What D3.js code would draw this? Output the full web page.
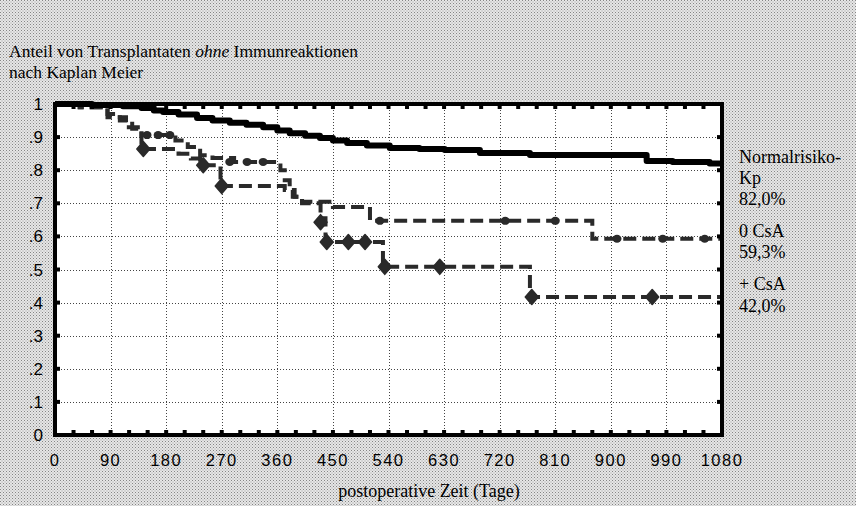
<!DOCTYPE html>
<html><head><meta charset="utf-8">
<script src="https://cdn.jsdelivr.net/npm/d3@7"></script>
<style>html,body{margin:0;padding:0;background:#fff}svg{display:block}</style>
</head><body>
<script>
// ---- data ----
const xTicks = [0,90,180,270,360,450,540,630,720,810,900,990,1080];
const yTicks = [0,0.1,0.2,0.3,0.4,0.5,0.6,0.7,0.8,0.9,1];
const yTickLabels = ["0",".1",".2",".3",".4",".5",".6",".7",".8",".9","1"];

const normalDays = [0,60,110,140,160,175,200,230,255,283,310,337,360,380,405,429,450,473,505,542,590,631,688,769,958,1000,1060,1080];
const normalVals = [1,0.997,0.993,0.988,0.98,0.976,0.968,0.958,0.95,0.943,0.937,0.93,0.92,0.912,0.904,0.897,0.89,0.882,0.875,0.867,0.864,0.861,0.852,0.846,0.828,0.825,0.82,0.82];

const csa0Days = [0,40,85,105,125,140,195,215,235,255,290,365,372,380,388,400,450,510,870,1080];
const csa0Vals = [1,0.99,0.97,0.95,0.925,0.906,0.89,0.87,0.845,0.837,0.825,0.80,0.77,0.74,0.72,0.705,0.689,0.647,0.593,0.593];
const csa0CensorDays = [149,167,186,283,311,337,526,729,810,910,984,1052];
const csa0CensorVals = [0.906,0.906,0.906,0.825,0.825,0.825,0.647,0.647,0.647,0.593,0.593,0.593];

const csaPDays = [0,40,85,115,140,200,220,235,268,372,385,400,430,438,531,769,1080];
const csaPVals = [1,0.99,0.96,0.93,0.864,0.85,0.835,0.815,0.752,0.74,0.72,0.70,0.655,0.583,0.508,0.417,0.417];
const csaPCensorDays = [143,240,270,430,440,475,502,534,623,772,967];
const csaPCensorVals = [0.864,0.815,0.752,0.643,0.583,0.583,0.583,0.508,0.508,0.417,0.417];

const legendLines = ["Normalrisiko-","Kp","82,0%","0 CsA","59,3%","+ CsA","42,0%"];

// ---- drawing ----
const W = 856, H = 506;
const svg = d3.select("body").append("svg").attr("width", W).attr("height", H);
const defs = svg.append("defs");
const pat = defs.append("pattern").attr("id","ht").attr("width",3).attr("height",3).attr("patternUnits","userSpaceOnUse");
pat.append("rect").attr("width",3).attr("height",3).attr("fill","#e6e6e6");
pat.append("rect").attr("x",0).attr("y",0).attr("width",1).attr("height",1).attr("fill","#858585");
pat.append("rect").attr("x",1.5).attr("y",1.5).attr("width",1).attr("height",1).attr("fill","#a0a0a0");
svg.append("rect").attr("width",W).attr("height",H).attr("fill","url(#ht)");

const x = d3.scaleLinear().domain([0,1080]).range([55,722]);
const y = d3.scaleLinear().domain([0,1]).range([435,104]);

svg.append("rect").attr("x",x(0)).attr("y",y(1)).attr("width",x(1080)-x(0)).attr("height",y(0)-y(1)).attr("fill","#fff");

// grid
const grid = svg.append("g").attr("stroke","#444").attr("stroke-width",1).attr("stroke-dasharray","1,2");
grid.selectAll("line.v").data(xTicks.slice(1,-1)).join("line")
  .attr("x1",d=>Math.round(x(d))+0.5).attr("x2",d=>Math.round(x(d))+0.5).attr("y1",y(1)).attr("y2",y(0));
grid.selectAll("line.h").data(yTicks.slice(1,-1)).join("line")
  .attr("y1",d=>Math.round(y(d))+0.5).attr("y2",d=>Math.round(y(d))+0.5).attr("x1",x(0)).attr("x2",x(1080));

// curves
const line = d3.line().x(d=>x(d[0])).y(d=>y(d[1])).curve(d3.curveStepAfter);
const normal = normalDays.map((d,i)=>[d,normalVals[i]]);
const csa0 = csa0Days.map((d,i)=>[d,csa0Vals[i]]);
const csaP = csaPDays.map((d,i)=>[d,csaPVals[i]]);

svg.append("path").attr("d",line(csaP)).attr("fill","none").attr("stroke","#2a2a2a")
  .attr("stroke-width",4).attr("stroke-dasharray","13,6");
svg.append("path").attr("d",line(csa0)).attr("fill","none").attr("stroke","#2a2a2a")
  .attr("stroke-width",4).attr("stroke-dasharray","13,6");

svg.append("g").selectAll("ellipse").data(csa0CensorDays).join("ellipse")
  .attr("cx",d=>x(d)).attr("cy",(d,i)=>y(csa0CensorVals[i])).attr("rx",4.5).attr("ry",4).attr("fill","#2a2a2a");
const diamond = "M0,-7.5L6.5,0L0,7.5L-6.5,0Z";
svg.append("g").selectAll("path").data(csaPCensorDays).join("path")
  .attr("transform",(d,i)=>`translate(${x(d)},${y(csaPCensorVals[i])})`)
  .attr("d",diamond).attr("fill","#2a2a2a").attr("stroke","#2a2a2a").attr("stroke-width",1.5).attr("stroke-linejoin","round");

svg.append("path").attr("d",line(normal)).attr("fill","none").attr("stroke","#000")
  .attr("stroke-width",6).attr("stroke-linejoin","round");

// frame
svg.append("rect").attr("x",x(0)).attr("y",y(1)).attr("width",x(1080)-x(0)).attr("height",y(0)-y(1))
  .attr("fill","none").attr("stroke","#000").attr("stroke-width",4);

// minor ticks (inward squares)
const minor = d3.range(30,1080,30);
const tk = svg.append("g").attr("fill","#000");
tk.selectAll("rect.b").data(minor).join("rect").attr("x",d=>x(d)-2).attr("y",y(0)-5).attr("width",4).attr("height",4);
tk.selectAll("rect.t").data(minor).join("rect").attr("x",d=>x(d)-2).attr("y",y(1)+1).attr("width",4).attr("height",4);
const yMinor = yTicks.slice(1,-1);
tk.selectAll("rect.l").data(yMinor).join("rect").attr("x",x(0)+1).attr("y",d=>y(d)-2).attr("width",4).attr("height",4);
tk.selectAll("rect.r").data(yMinor).join("rect").attr("x",x(1080)-5).attr("y",d=>y(d)-2).attr("width",4).attr("height",4);

// axes labels
const sans = "'Liberation Sans', Arial, sans-serif";
svg.append("g").selectAll("text").data(xTicks).join("text")
  .attr("x",d=>x(d)).attr("y",466).attr("text-anchor","middle")
  .attr("font-family",sans).attr("font-size",16.5).attr("letter-spacing","1.5px").attr("fill","#000")
  .text(d=>d);
svg.append("g").selectAll("text").data(yTicks).join("text")
  .attr("x",43).attr("y",d=>y(d)+6).attr("text-anchor","end")
  .attr("font-family",sans).attr("font-size",17).attr("fill","#000")
  .text((d,i)=>yTickLabels[i]);

const serif = "'Liberation Serif', 'Times New Roman', serif";
const t1 = svg.append("text").attr("x",9).attr("y",57).attr("font-family",serif).attr("font-size",17.5).attr("fill","#000");
t1.append("tspan").text("Anteil von Transplantaten ");
t1.append("tspan").attr("font-style","italic").text("ohne");
t1.append("tspan").text(" Immunreaktionen");
svg.append("text").attr("x",9).attr("y",78).attr("font-family",serif).attr("font-size",17.5).attr("fill","#000").text("nach Kaplan Meier");

const legY = [163,184,205,237,258,290,312];
svg.append("g").selectAll("text").data(legendLines).join("text")
  .attr("x",739).attr("y",(d,i)=>legY[i]).attr("font-family",serif).attr("font-size",18).attr("fill","#000")
  .text(d=>d);

svg.append("text").attr("x",429).attr("y",497).attr("text-anchor","middle")
  .attr("font-family",serif).attr("font-size",18).attr("fill","#000").text("postoperative Zeit (Tage)");
</script>
</body></html>
